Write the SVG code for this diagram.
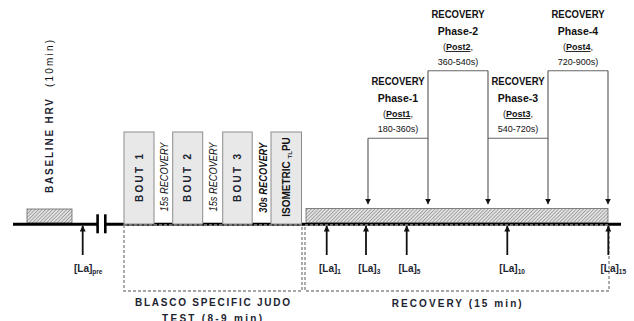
<svg xmlns="http://www.w3.org/2000/svg" width="634" height="321" viewBox="0 0 634 321">
<defs>
<pattern id="hatch" patternUnits="userSpaceOnUse" width="2.5" height="2.5" patternTransform="rotate(45)">
<rect width="2.5" height="2.5" fill="#e2e2e2"/>
<line x1="0" y1="0" x2="0" y2="2.5" stroke="#6a6a6a" stroke-width="1"/>
</pattern>
<marker id="ah" markerWidth="6" markerHeight="6" refX="5.5" refY="3" orient="auto" markerUnits="userSpaceOnUse">
<path d="M0,0 L6,3 L0,6 Z" fill="#111"/>
</marker>
</defs>
<style>
.t{font-family:"Liberation Sans",Arial,sans-serif;fill:#111}
.b{font-weight:bold}
.lab{font-family:"Liberation Sans",Arial,sans-serif;font-weight:bold;font-size:10px;fill:#1c2330}
.sub{font-size:6.5px}
.bout{fill:#e8e8e8;stroke:#8c8c8c;stroke-width:1}
.hatch{fill:url(#hatch);stroke:#666;stroke-width:0.8}
.dash{fill:none;stroke:#8a8a8a;stroke-width:1.4;stroke-dasharray:3,2}
.up{stroke:#111;stroke-width:1.8;fill:none}
.down{stroke:#555;stroke-width:1.1;fill:none}
.br{stroke:#666;stroke-width:1.1;fill:none}
.ph{font-family:"Liberation Sans",Arial,sans-serif;fill:#111;text-anchor:middle}
</style>

<g id="baseline">
<rect class="hatch" x="27" y="209" width="45" height="14"/>
<text class="lab" transform="translate(52.5,146) rotate(-90)" text-anchor="middle" textLength="94" lengthAdjust="spacing">BASELINE HRV</text>
<text class="t" font-size="10" transform="translate(52.5,63.5) rotate(-90)" text-anchor="middle" textLength="47" lengthAdjust="spacing">(10min)</text>
</g>

<g id="timeline">
<line x1="13" y1="224.3" x2="97" y2="224.3" stroke="#000" stroke-width="3"/>
<line x1="105" y1="224.3" x2="621" y2="224.3" stroke="#000" stroke-width="3"/>
<rect x="96.3" y="214.3" width="2.6" height="19" fill="#000"/>
<rect x="104" y="214.3" width="2.6" height="19" fill="#000"/>
</g>

<g id="bout1">
<rect class="bout" x="124" y="132" width="30" height="92"/>
<text class="lab" transform="translate(142.5,178) rotate(-90)" text-anchor="middle" textLength="48" lengthAdjust="spacing">BOUT 1</text>
</g>
<g id="rec1">
<text class="t" font-size="10" font-style="italic" transform="translate(167.5,177) rotate(-90)" text-anchor="middle" textLength="69" lengthAdjust="spacingAndGlyphs">15s RECOVERY</text>
</g>
<g id="bout2">
<rect class="bout" x="172.7" y="132" width="30" height="92"/>
<text class="lab" transform="translate(191.2,178) rotate(-90)" text-anchor="middle" textLength="48" lengthAdjust="spacing">BOUT 2</text>
</g>
<g id="rec2">
<text class="t" font-size="10" font-style="italic" transform="translate(216.5,177) rotate(-90)" text-anchor="middle" textLength="69" lengthAdjust="spacingAndGlyphs">15s RECOVERY</text>
</g>
<g id="bout3">
<rect class="bout" x="222.7" y="132" width="29.5" height="92"/>
<text class="lab" transform="translate(241,178) rotate(-90)" text-anchor="middle" textLength="48" lengthAdjust="spacing">BOUT 3</text>
</g>
<g id="rec3">
<text class="t b" font-size="10" font-style="italic" transform="translate(266.5,177.7) rotate(-90)" text-anchor="middle" textLength="70" lengthAdjust="spacingAndGlyphs">30s RECOVERY</text>
</g>
<g id="isometric">
<rect class="bout" x="271" y="132" width="30.5" height="92"/>
<text class="t b" font-size="10" transform="translate(290,177) rotate(-90)" text-anchor="middle">ISOMETRIC <tspan font-size="6" dy="1.5">TL</tspan><tspan dy="-1.5">PU</tspan></text>
</g>

<g id="blasco">
<rect class="dash" x="124" y="225" width="178" height="66"/>
<text class="lab" x="212.5" y="306" text-anchor="middle" textLength="155" lengthAdjust="spacing">BLASCO SPECIFIC JUDO</text>
<text class="lab" x="212" y="321.5" text-anchor="middle" textLength="100" lengthAdjust="spacing">TEST (8-9 min)</text>
</g>

<g id="recovery">
<rect class="hatch" x="306" y="208.5" width="302" height="14"/>
<rect class="dash" x="305" y="225" width="304" height="66"/>
<text class="lab" x="456.7" y="306.5" text-anchor="middle" textLength="130" lengthAdjust="spacing">RECOVERY (15 min)</text>
</g>

<g id="la-pre"><text class="lab" x="74" y="272">[La]<tspan class="sub" dy="1.5">pre</tspan></text></g>
<g id="la-1"><text class="lab" x="319" y="272">[La]<tspan class="sub" dy="1.5">1</tspan></text></g>
<g id="la-3"><text class="lab" x="358.3" y="272">[La]<tspan class="sub" dy="1.5">3</tspan></text></g>
<g id="la-5"><text class="lab" x="398.5" y="272">[La]<tspan class="sub" dy="1.5">5</tspan></text></g>
<g id="la-10"><text class="lab" x="499.3" y="272">[La]<tspan class="sub" dy="1.5">10</tspan></text></g>
<g id="la-15"><text class="lab" x="600.5" y="272">[La]<tspan class="sub" dy="1.5">15</tspan></text></g>

<g id="phase1">
<text class="ph b" x="398" y="85" font-size="10.5" textLength="53" lengthAdjust="spacingAndGlyphs">RECOVERY</text>
<text class="ph b" x="398" y="101.5" font-size="10.5">Phase-1</text>
<text class="ph" x="398" y="117" font-size="9">(<tspan font-weight="bold" text-decoration="underline">Post1</tspan>,</text>
<text class="ph" x="398" y="131.5" font-size="9">180-360s)</text>
</g>
<g id="phase2">
<text class="ph b" x="458" y="18" font-size="10.5" textLength="53" lengthAdjust="spacingAndGlyphs">RECOVERY</text>
<text class="ph b" x="458" y="34.5" font-size="10.5">Phase-2</text>
<text class="ph" x="458" y="50" font-size="9">(<tspan font-weight="bold" text-decoration="underline">Post2</tspan>,</text>
<text class="ph" x="458" y="64.5" font-size="9">360-540s)</text>
</g>
<g id="phase3">
<text class="ph b" x="518" y="85" font-size="10.5" textLength="53" lengthAdjust="spacingAndGlyphs">RECOVERY</text>
<text class="ph b" x="518" y="101.5" font-size="10.5">Phase-3</text>
<text class="ph" x="518" y="117" font-size="9">(<tspan font-weight="bold" text-decoration="underline">Post3</tspan>,</text>
<text class="ph" x="518" y="131.5" font-size="9">540-720s)</text>
</g>
<g id="phase4">
<text class="ph b" x="578" y="18" font-size="10.5" textLength="53" lengthAdjust="spacingAndGlyphs">RECOVERY</text>
<text class="ph b" x="578" y="34.5" font-size="10.5">Phase-4</text>
<text class="ph" x="578" y="50" font-size="9">(<tspan font-weight="bold" text-decoration="underline">Post4</tspan>,</text>
<text class="ph" x="578" y="64.5" font-size="9">720-900s)</text>
</g>

<g id="connectors">
<line class="br" x1="368" y1="138.3" x2="428" y2="138.3"/>
<line class="br" x1="428" y1="70.7" x2="488" y2="70.7"/>
<line class="br" x1="488" y1="138.3" x2="548" y2="138.3"/>
<line class="br" x1="548" y1="70.7" x2="608" y2="70.7"/>
<line class="down" x1="368" y1="138.3" x2="368" y2="204" marker-end="url(#ah)"/>
<line class="down" x1="428" y1="70.7" x2="428" y2="204" marker-end="url(#ah)"/>
<line class="down" x1="488" y1="70.7" x2="488" y2="204" marker-end="url(#ah)"/>
<line class="down" x1="548" y1="70.7" x2="548" y2="204" marker-end="url(#ah)"/>
<line class="down" x1="608" y1="70.7" x2="608" y2="204" marker-end="url(#ah)"/>
<line class="up" x1="82.7" y1="255" x2="82.7" y2="226" marker-end="url(#ah)"/>
<line class="up" x1="326.7" y1="255" x2="326.7" y2="226" marker-end="url(#ah)"/>
<line class="up" x1="366" y1="255" x2="366" y2="226" marker-end="url(#ah)"/>
<line class="up" x1="406.7" y1="255" x2="406.7" y2="226" marker-end="url(#ah)"/>
<line class="up" x1="507.3" y1="255" x2="507.3" y2="226" marker-end="url(#ah)"/>
<line class="up" x1="608.3" y1="255" x2="608.3" y2="226" marker-end="url(#ah)"/>
</g>
</svg>
